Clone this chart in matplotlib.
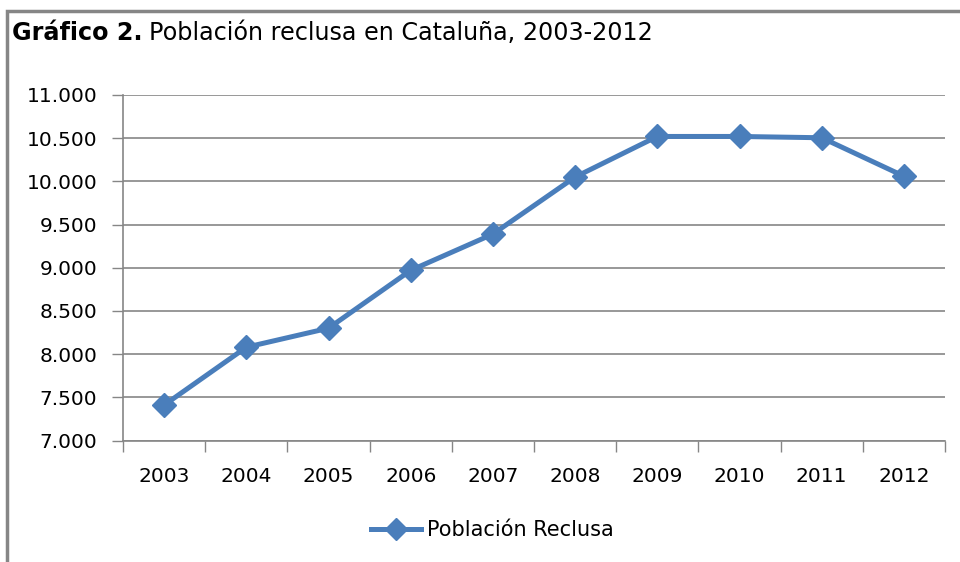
import matplotlib.pyplot as plt
from matplotlib.patches import Rectangle
from matplotlib.lines import Line2D
import numpy as np

# datos
years = ['2003', '2004', '2005', '2006', '2007', '2008', '2009', '2010', '2011', '2012']
reclusos = [7410, 8080, 8300, 8970, 9390, 10050, 10520, 10520, 10505, 10060]
yticks = [7000, 7500, 8000, 8500, 9000, 9500, 10000, 10500, 11000]
ytick_labels = ['7.000', '7.500', '8.000', '8.500', '9.000', '9.500', '10.000', '10.500', '11.000']

blue = '#4a7ebb'
grey = '#868686'
tick_font = 'DejaVu Sans'
tick_size = 14.5

fig = plt.figure(figsize=(9.6, 5.62), dpi=100)
ax = fig.add_axes([123/960, 1 - 440.5/562, (945-123)/960, (440.5-95)/562])

# marco exterior
fig.patches.append(Rectangle((7/960, -0.05), 1.2, 1 - 11/562 + 0.05, transform=fig.transFigure,
                             fill=False, edgecolor=grey, linewidth=2.5))

x = np.arange(len(years))
ax.plot(x, reclusos, color=blue, linewidth=3.6, marker='D', markersize=12.5,
        markerfacecolor=blue, markeredgecolor=blue, zorder=3, clip_on=False)

ax.set_xlim(-0.5, len(years) - 0.5)
ax.set_ylim(7000, 11000)
ax.set_yticks(yticks)
ax.set_yticklabels(ytick_labels, fontfamily=tick_font, fontsize=tick_size)
ax.set_xticks(x)
ax.set_xticklabels(years, fontfamily=tick_font, fontsize=tick_size)
ax.set_xticks(np.arange(-0.5, len(years)), minor=True)
ax.tick_params(axis='x', which='major', length=0, pad=19)
ax.tick_params(axis='x', which='minor', length=8, color=grey, width=1)
ax.tick_params(axis='y', length=8, color=grey, width=1, pad=10.5)

ax.grid(axis='y', color=grey, linewidth=1.2)
ax.set_axisbelow(True)
for s in ['top', 'right']:
    ax.spines[s].set_visible(False)
for s in ['left', 'bottom']:
    ax.spines[s].set_color(grey)
    ax.spines[s].set_linewidth(1.2)

# titulo
fig.text(12/960, 1 - 33/562, 'Gráfico 2.', fontsize=17.2, fontweight='bold',
         fontfamily='DejaVu Sans', va='center')
fig.text(149/960, 1 - 33/562, 'Población reclusa en Cataluña, 2003-2012', fontsize=17.2,
         fontfamily='DejaVu Sans', va='center')

# leyenda
handle = Line2D([], [], color=blue, linewidth=3.6, marker='D', markersize=11)
fig.legend([handle], ['Población Reclusa'], loc='center', bbox_to_anchor=(0.513, 1 - 530/562),
           frameon=False, prop={'family': tick_font, 'size': 15}, handlelength=2.4,
           handletextpad=0.3)

fig.savefig('out.png', dpi=100)
